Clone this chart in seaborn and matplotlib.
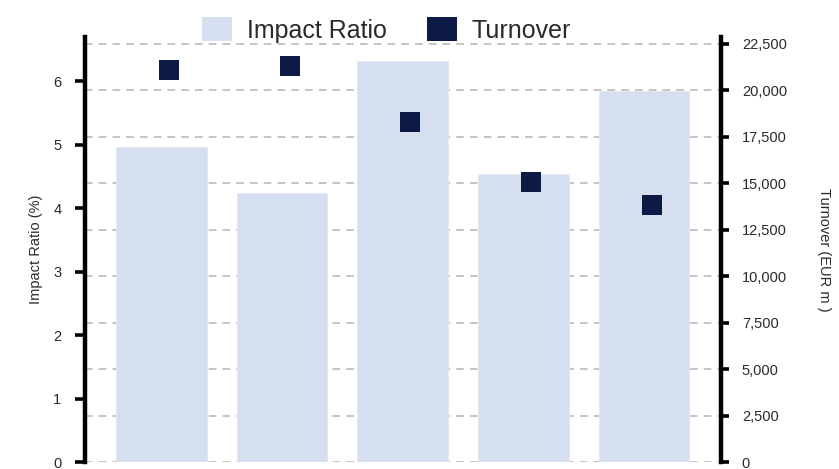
import matplotlib
matplotlib.use("Agg")
import matplotlib.pyplot as plt
from matplotlib.patches import Patch
from matplotlib.transforms import ScaledTranslation
import pandas as pd
import seaborn as sns

# Data
companies = ["Company A", "Company B", "Company C", "Company D", "Company E"]
impact_ratio = [4.97, 4.24, 6.32, 4.54, 5.85]          # %
turnover = [21100, 21300, 18300, 15100, 13850]          # EUR m
left_ticks = [0, 1, 2, 3, 4, 5, 6]
right_ticks = [0, 2500, 5000, 7500, 10000, 12500, 15000, 17500, 20000, 22500]

BAR_COLOR = "#d6dff0"
MARK_COLOR = "#0c1a45"
TEXT_COLOR = "#2a2a2a"
LEFT_TOP = 6.70
RIGHT_TOP = 22876

sns.set_theme(style="white")
plt.rcParams["font.family"] = ["Liberation Sans", "DejaVu Sans"]

df = pd.DataFrame({"company": companies,
                   "impact": impact_ratio,
                   "turnover": turnover})

fig = plt.figure(figsize=(8.39, 4.69), dpi=100)
ax = fig.add_axes([0.1013, 0.0139, 0.7581, 0.9072])

sns.barplot(data=df, x="company", y="impact", color=BAR_COLOR,
            saturation=1, width=0.75, edgecolor="#e2e8f4", linewidth=0.6,
            ax=ax, zorder=2)
ax.set_ylim(0, LEFT_TOP)
ax.set_xlim(-0.635, 4.64)

# dashed guides follow the turnover scale, drawn behind the bars
for r in right_ticks:
    ax.axhline(r * LEFT_TOP / RIGHT_TOP, color="#b4b4b4", lw=1.1,
               ls=(0, (5, 4)), zorder=0.5)

ax2 = ax.twinx()
sns.stripplot(data=df, x="company", y="turnover", jitter=False,
              marker="s", size=15, color=MARK_COLOR, linewidth=0,
              ax=ax2, zorder=4)
shift = ScaledTranslation(0.077, 0, fig.dpi_scale_trans)
for coll in ax2.collections:
    coll.set_offset_transform(ax2.transData + shift)
ax2.set_ylim(0, RIGHT_TOP)
ax2.set_xlim(-0.635, 4.64)

# axes styling
for a in (ax, ax2):
    for s in ("top", "bottom"):
        a.spines[s].set_visible(False)
    a.set_xlabel("")
    a.set_xticks([])
ax.spines["right"].set_visible(False)
ax2.spines["left"].set_visible(False)
ax.spines["left"].set_linewidth(3.2)
ax.spines["left"].set_color("black")
ax2.spines["right"].set_linewidth(3.2)
ax2.spines["right"].set_color("black")

ax.set_yticks(left_ticks)
ax.set_yticklabels([str(t) for t in left_ticks])
ax.tick_params(axis="y", left=True, direction="out", length=7, width=2.6,
               color="black", pad=10, labelsize=10.5, labelcolor=TEXT_COLOR)
ax2.set_yticks(right_ticks)
ax2.set_yticklabels([f"{t:,}" for t in right_ticks])
ax2.tick_params(axis="y", right=True, direction="out", length=6, width=2.6,
                color="black", pad=9, labelsize=10.5, labelcolor=TEXT_COLOR)

ax.set_ylabel("Impact Ratio (%)", fontsize=10.5, color=TEXT_COLOR, labelpad=7)
ax2.set_ylabel("Turnover (EUR m )", fontsize=10.5, color=TEXT_COLOR,
               rotation=-90, labelpad=32)

handles = [Patch(facecolor=BAR_COLOR, edgecolor="none", label="Impact Ratio"),
           Patch(facecolor=MARK_COLOR, edgecolor="none", label="Turnover")]
fig.legend(handles=handles, loc="center", bbox_to_anchor=(0.4607, 0.936),
           ncol=2, frameon=False, fontsize=18, handlelength=1.2,
           handleheight=1.05, handletextpad=0.6, columnspacing=1.6,
           borderpad=0, labelcolor=TEXT_COLOR)

fig.savefig("out.png", dpi=100)
